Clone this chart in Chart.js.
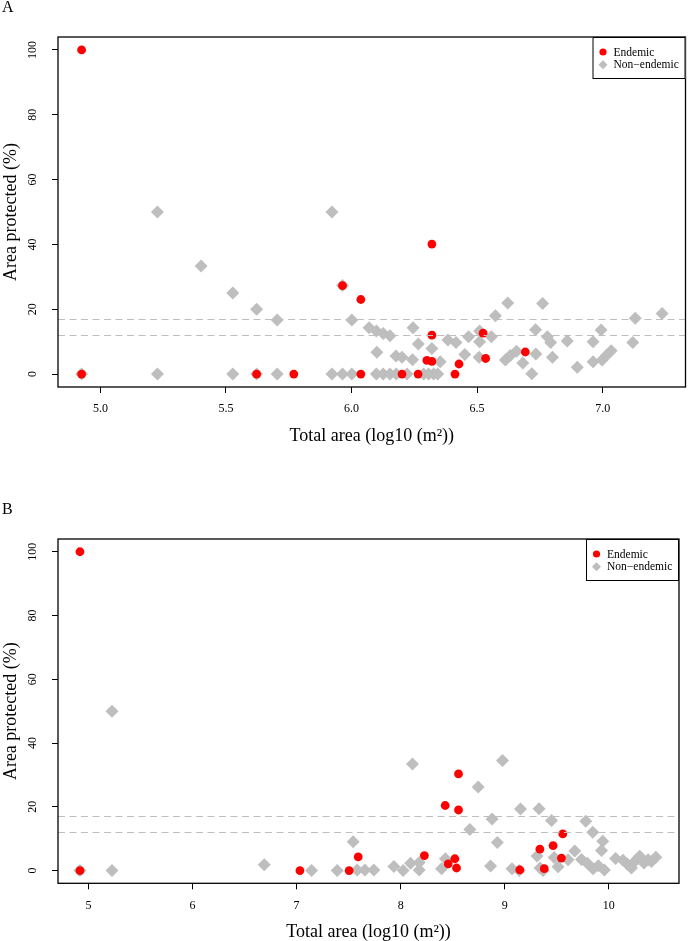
<!DOCTYPE html>
<html>
<head>
<meta charset="utf-8">
<title>Area protected vs total area</title>
<script src="https://cdn.jsdelivr.net/npm/chart.js@4.4.1/dist/chart.umd.min.js"></script>
<style>
    body { margin: 0; background: #fff; }
    .panel { position: absolute; left: 0; width: 692px; }
    #panelA { top: 0; height: 470px; }
    #panelB { top: 470px; height: 471px; }
</style>
</head>
<body>
<div class="panel" id="panelA"><canvas id="chartA" width="692" height="470"></canvas></div>
<div class="panel" id="panelB"><canvas id="chartB" width="692" height="471"></canvas></div>

<script>
// ---- Data ----

// Panel A
const aEndemicX = [4.925, 4.925, 5.622, 5.77, 5.964, 6.037, 6.037, 6.201, 6.265, 6.30, 6.32, 6.32, 6.32, 6.412, 6.428, 6.524, 6.534, 6.692];
const aEndemicY = [100, 0, 0, 0, 27.3, 23.0, 0, 0, 0, 4.2, 3.9, 40.1, 12.0, 0, 3.1, 12.6, 4.8, 6.8];

const aOtherX = [4.925, 5.227, 5.227, 5.401, 5.527, 5.527, 5.622, 5.622, 5.704, 5.704,
    5.922, 5.922, 5.964, 5.964, 6.001, 6.001, 6.07, 6.099, 6.126, 6.153,
    6.101, 6.177, 6.201, 6.243, 6.245, 6.266, 6.32, 6.353, 6.384, 6.416,
    6.451, 6.466, 6.51, 6.51, 6.508, 6.557, 6.573, 6.622, 6.613, 6.632,
    6.657, 6.682, 6.718, 6.733, 6.734, 6.761, 6.78, 6.793, 6.80, 6.859,
    6.899, 6.962, 6.962, 6.994, 6.998, 7.017, 7.034, 7.12, 7.13, 7.237,
    6.099, 6.126, 6.153, 6.178, 6.221, 6.287, 6.307, 6.327, 6.343];
const aOtherY = [0, 50, 0, 33.3, 25, 0, 20, 0, 16.7, 0,
    50, 0, 27.3, 0, 16.7, 0, 14.3, 13.3, 12.5, 11.8,
    6.7, 5.6, 5.2, 4.4, 14.3, 9.3, 7.9, 3.8, 10.5, 9.7,
    6.0, 11.5, 13.3, 10.0, 5.2, 11.5, 18.0, 21.9, 4.3, 5.7,
    7.0, 3.4, 0.1, 13.7, 6.2, 21.8, 11.5, 9.7, 5.2, 10.2,
    2.1, 3.8, 10.0, 13.6, 4.3, 5.9, 7.2, 9.7, 17.2, 18.7,
    0, 0, 0, 0, 0, 0, 0, 0, 0];

// Panel B
const bEndemicX = [4.918, 4.918, 7.032, 7.505, 7.592, 8.228, 8.428, 8.556, 8.556, 8.457, 8.521, 8.537, 9.145, 9.38, 9.338, 9.465, 9.545, 9.558];
const bEndemicY = [100, 0, 0, 0, 4.3, 4.7, 20.4, 30.3, 19.0, 2.1, 3.7, 0.8, 0.2, 0.6, 6.7, 7.8, 3.9, 11.5];

const bOtherX = [4.918, 5.226, 5.226, 6.689, 7.144, 7.39, 7.544, 7.582, 7.656, 7.742,
    7.935, 8.024, 8.095, 8.178, 8.178, 8.114, 8.43, 8.393, 8.665, 8.745,
    8.979, 9.152, 9.33, 8.879, 8.929, 8.864, 9.07, 9.14, 9.311, 9.34,
    9.369, 9.45, 9.779, 9.846, 9.942, 9.673, 9.93, 9.475, 9.513, 9.609,
    9.738, 9.794, 9.849, 9.9, 9.958, 10.066, 10.137, 10.18, 10.218, 10.25,
    10.282, 10.298, 10.338, 10.378, 10.41, 10.452];
const bOtherY = [0, 50, 0, 1.8, 0, 0, 9.0, 0.2, 0.2, 0.2,
    1.3, 0, 2.3, 2.5, 0.2, 33.4, 3.7, 0.6, 12.9, 26.2,
    34.5, 19.3, 19.4, 16.2, 8.8, 1.4, 0.6, 0, 4.6, 0.8,
    0, 15.7, 15.5, 12.0, 9.2, 6.1, 6.3, 4.1, 1.2, 3.4,
    3.5, 2.3, 0.6, 1.5, 0.2, 3.8, 3.2, 2.0, 0.8, 2.8,
    3.9, 4.5, 2.4, 3.4, 2.8, 4.2];

// Ticks and reference lines
const aXTicks = [5.0, 5.5, 6.0, 6.5, 7.0];
const bXTicks = [5, 6, 7, 8, 9, 10];
const yTicks = [0, 20, 40, 60, 80, 100];
const targetLines = [12, 17];

const seriesLabels = ['Endemic', 'Non\u2212endemic'];

// ---- Styling ----
const FONT = "'Liberation Serif', 'Times New Roman', serif";
const RED = '#ff0000';
const GREY = '#bebebe';

function toPoints(xs, ys) {
    return xs.map((x, i) => ({ x: x, y: ys[i] }));
}

// Dashed target lines, plot frame and boxed legend (drawn like base R)
const basePlotPlugin = {
    id: 'basePlot',
    afterDatasetsDraw(chart) {
        const { ctx, chartArea: a } = chart;
        const y = chart.scales.y;
        ctx.save();
        ctx.strokeStyle = GREY;
        ctx.lineWidth = 1;
        ctx.setLineDash([7, 4.5]);
        targetLines.forEach(v => {
            const py = Math.round(y.getPixelForValue(v)) + 0.5;
            ctx.beginPath();
            ctx.moveTo(a.left, py);
            ctx.lineTo(a.right, py);
            ctx.stroke();
        });
        ctx.restore();
    },
    afterDraw(chart) {
        const { ctx, chartArea: a } = chart;
        ctx.save();
        ctx.strokeStyle = '#000';
        ctx.lineWidth = 1.3;
        ctx.strokeRect(a.left, a.top, a.right - a.left, a.bottom - a.top);

        // legend box in the top right corner
        const w = 93, h = 42;
        const lx = a.right - w, ly = a.top;
        ctx.lineWidth = 1;
        ctx.fillStyle = '#fff';
        ctx.fillRect(lx, ly, w, h);
        ctx.strokeRect(lx + 0.5, ly + 0.5, w - 1, h - 1);

        ctx.font = '11.5px ' + FONT;
        ctx.textBaseline = 'middle';
        ctx.textAlign = 'left';
        chart.data.datasets.forEach((ds, i) => {
            const my = ly + 15 + i * 12.8;
            const mx = lx + 10.5;
            ctx.fillStyle = ds.backgroundColor;
            ctx.beginPath();
            if (ds.pointStyle === 'circle') {
                ctx.arc(mx, my, 3.6, 0, Math.PI * 2);
            } else {
                ctx.moveTo(mx, my - 4.5);
                ctx.lineTo(mx + 4.5, my);
                ctx.lineTo(mx, my + 4.5);
                ctx.lineTo(mx - 4.5, my);
                ctx.closePath();
            }
            ctx.fill();
            ctx.fillStyle = '#000';
            ctx.fillText(ds.label, lx + 21, my + 0.5);
        });
        ctx.restore();
    }
};

function makePanel(canvasId, cfg) {
    const ctx = document.getElementById(canvasId).getContext('2d');
    return new Chart(ctx, {
        type: 'scatter',
        data: {
            datasets: [
                {
                    label: seriesLabels[0],
                    data: toPoints(cfg.endemicX, cfg.endemicY),
                    pointStyle: 'circle',
                    pointRadius: 4.4,
                    pointHoverRadius: 4.4,
                    backgroundColor: RED,
                    borderWidth: 0
                },
                {
                    label: seriesLabels[1],
                    data: toPoints(cfg.otherX, cfg.otherY),
                    pointStyle: 'rectRot',
                    pointRadius: 6.5,
                    pointHoverRadius: 6.5,
                    backgroundColor: GREY,
                    borderWidth: 0
                }
            ]
        },
        options: {
            responsive: false,
            animation: false,
            devicePixelRatio: 1,
            events: [],
            clip: false,
            layout: { padding: { left: 2, right: cfg.padRight, top: 0, bottom: 0 } },
            plugins: {
                legend: { display: false },
                tooltip: { enabled: false },
                title: {
                    display: true,
                    text: cfg.letter,
                    align: 'start',
                    color: '#000',
                    font: { family: FONT, size: 16, weight: 'normal', lineHeight: 1 },
                    padding: { top: cfg.letterTop, bottom: 21 }
                }
            },
            scales: {
                x: {
                    type: 'linear',
                    min: cfg.xMin,
                    max: cfg.xMax,
                    afterBuildTicks: s => { s.ticks = cfg.xTicks.map(v => ({ value: v })); },
                    afterFit: s => { s.height = cfg.xAxisHeight; },
                    border: { display: false },
                    grid: { drawOnChartArea: false, drawTicks: true, tickLength: 6, color: '#000', lineWidth: 1 },
                    ticks: {
                        autoSkip: false,
                        maxRotation: 0,
                        padding: 9,
                        color: '#000',
                        font: { family: FONT, size: 12 },
                        callback: cfg.xFormat
                    },
                    title: {
                        display: true,
                        text: 'Total area (log10 (m\u00b2))',
                        color: '#000',
                        font: { family: FONT, size: 18, lineHeight: 1 },
                        padding: { top: 0, bottom: cfg.xTitleBottom }
                    }
                },
                y: {
                    type: 'linear',
                    min: -4,
                    max: 104,
                    afterBuildTicks: s => { s.ticks = yTicks.map(v => ({ value: v })); },
                    afterFit: s => { s.width = 56; },
                    border: { display: false },
                    grid: { drawOnChartArea: false, drawTicks: true, tickLength: 6, color: '#000', lineWidth: 1 },
                    ticks: {
                        minRotation: 90,
                        maxRotation: 90,
                        crossAlign: 'center',
                        padding: 10,
                        color: '#000',
                        font: { family: FONT, size: 12 },
                        callback: v => String(v)
                    },
                    title: {
                        display: true,
                        text: 'Area protected (%)',
                        color: '#000',
                        font: { family: FONT, size: 18, lineHeight: 1 },
                        padding: { top: 0, bottom: 0 }
                    }
                }
            }
        },
        plugins: [basePlotPlugin]
    });
}

document.addEventListener('DOMContentLoaded', function() {
    makePanel('chartA', {
        letter: 'A',
        letterTop: 0,
        endemicX: aEndemicX, endemicY: aEndemicY,
        otherX: aOtherX, otherY: aOtherY,
        xMin: 4.831, xMax: 7.33,
        xTicks: aXTicks,
        xFormat: v => v.toFixed(1),
        padRight: 1,
        xAxisHeight: 83,
        xTitleBottom: 25
    });

    makePanel('chartB', {
        letter: 'B',
        letterTop: 32,
        endemicX: bEndemicX, endemicY: bEndemicY,
        otherX: bOtherX, otherY: bOtherY,
        xMin: 4.707, xMax: 10.675,
        xTicks: bXTicks,
        xFormat: v => String(v),
        padRight: 13,
        xAxisHeight: 57.7,
        xTitleBottom: 0
    });
});
</script>
</body>
</html>
